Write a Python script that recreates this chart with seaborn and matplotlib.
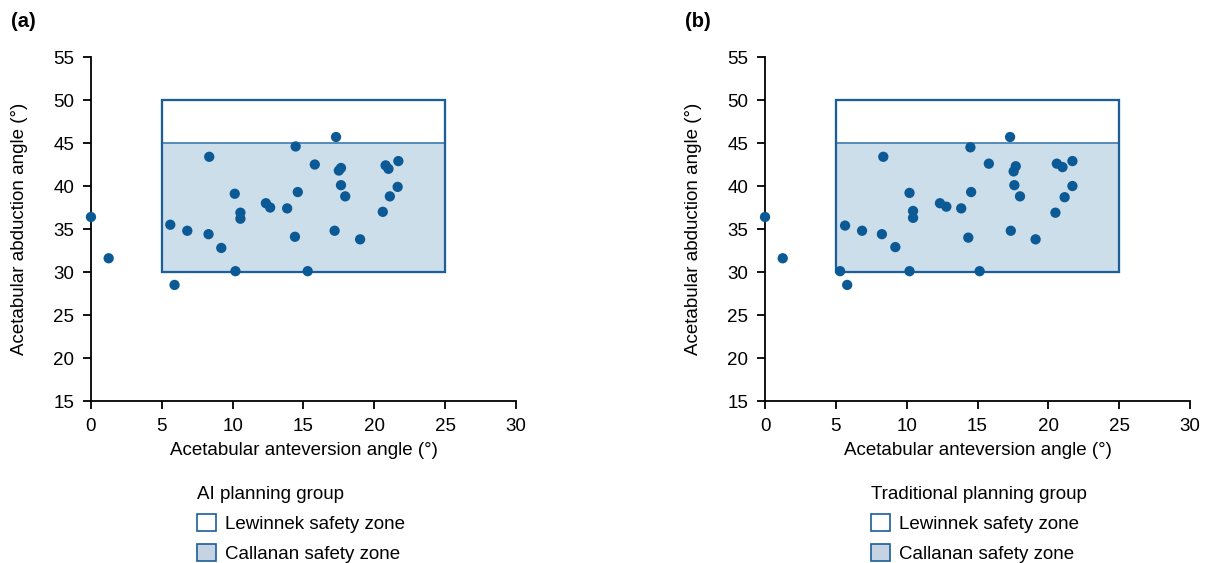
import matplotlib
matplotlib.use("Agg")
import matplotlib.pyplot as plt
from matplotlib.patches import Rectangle, Patch
import pandas as pd
import seaborn as sns

# AI planning group (anteversion, abduction)
ai_anteversion = [0.0, 1.25, 5.6, 5.9, 6.8, 8.3, 8.35, 9.2, 10.15, 10.2, 10.55, 10.55,
                  12.35, 12.65, 13.85, 14.4, 14.45, 14.6, 15.3, 15.8, 17.2, 17.3,
                  17.5, 17.65, 17.65, 17.95, 19.0, 20.6, 20.8, 21.0, 21.1, 21.65, 21.7]
ai_abduction = [36.4, 31.6, 35.5, 28.5, 34.8, 34.4, 43.4, 32.8, 39.1, 30.1, 36.9, 36.2,
                38.0, 37.5, 37.4, 34.1, 44.6, 39.3, 30.1, 42.5, 34.8, 45.7,
                41.8, 42.1, 40.1, 38.8, 33.8, 37.0, 42.4, 42.0, 38.8, 39.9, 42.9]

# Traditional planning group
trad_anteversion = [0.0, 1.25, 5.3, 5.65, 5.8, 6.85, 8.25, 8.35, 9.2, 10.2, 10.2, 10.45,
                    10.45, 12.35, 12.8, 13.85, 14.35, 14.5, 14.55, 15.15, 15.8, 17.3,
                    17.35, 17.55, 17.7, 17.6, 18.0, 19.1, 20.5, 20.6, 21.0, 21.15, 21.7, 21.7]
trad_abduction = [36.4, 31.6, 30.1, 35.4, 28.5, 34.8, 34.4, 43.4, 32.9, 39.2, 30.1, 37.1,
                  36.3, 38.0, 37.6, 37.4, 34.0, 44.5, 39.3, 30.1, 42.6, 45.7,
                  34.8, 41.7, 42.3, 40.1, 38.8, 33.8, 36.9, 42.6, 42.2, 38.7, 40.0, 42.9]

lewinnek_x = (5, 25)
lewinnek_y = (30, 50)
callanan_x = (5, 25)
callanan_y = (30, 45)

groups = ["AI planning group", "Traditional planning group"]
panel_tags = ["(a)", "(b)"]
x_ticks = [0, 5, 10, 15, 20, 25, 30]
y_ticks = [15, 20, 25, 30, 35, 40, 45, 50, 55]

dot_color = "#0b5a96"
edge_color = "#1c5e98"
fill_color = "#cddeeb"
fs = 13.5

sns.set_style("ticks")
plt.rcParams["font.family"] = ["Liberation Sans", "DejaVu Sans"]
plt.rcParams["font.size"] = fs
for key in ["text.color", "axes.labelcolor", "xtick.color", "ytick.color"]:
    plt.rcParams[key] = "black"

fig = plt.figure(figsize=(12.08, 5.63), dpi=100)
axes = [fig.add_axes([0.0753, 0.2877, 0.3518, 0.611]),
        fig.add_axes([0.6333, 0.2877, 0.3518, 0.611])]

datasets = [(ai_anteversion, ai_abduction), (trad_anteversion, trad_abduction)]

for ax, (xs, ys), group, tag in zip(axes, datasets, groups, panel_tags):
    df = pd.DataFrame({"anteversion": xs, "abduction": ys})
    ax.add_patch(Rectangle((lewinnek_x[0], lewinnek_y[0]),
                           lewinnek_x[1] - lewinnek_x[0], lewinnek_y[1] - lewinnek_y[0],
                           facecolor="white", edgecolor=edge_color, lw=1.5, zorder=1))
    ax.add_patch(Rectangle((callanan_x[0], callanan_y[0]),
                           callanan_x[1] - callanan_x[0], callanan_y[1] - callanan_y[0],
                           facecolor=fill_color, edgecolor="#4a84b5", lw=1.3, zorder=1))
    # redraw the outer frame on top of the inner zone
    ax.add_patch(Rectangle((lewinnek_x[0], lewinnek_y[0]),
                           lewinnek_x[1] - lewinnek_x[0], lewinnek_y[1] - lewinnek_y[0],
                           facecolor="none", edgecolor=edge_color, lw=1.6, zorder=2))
    sns.scatterplot(data=df, x="anteversion", y="abduction", ax=ax, color=dot_color,
                    s=55, edgecolor="none", zorder=3, clip_on=False)

    ax.set_xlim(0, 30)
    ax.set_ylim(15, 55)
    ax.set_xticks(x_ticks)
    ax.set_yticks(y_ticks)
    ax.tick_params(direction="out", length=6, width=1.3, labelsize=fs, colors="black", pad=6)
    for side in ["left", "bottom"]:
        ax.spines[side].set_linewidth(1.3)
        ax.spines[side].set_color("black")
    sns.despine(ax=ax)
    ax.set_xlabel("Acetabular anteversion angle (°)", fontsize=fs, labelpad=5)
    ax.set_ylabel("Acetabular abduction angle (°)", fontsize=fs, labelpad=18)

    handles = [Patch(facecolor="white", edgecolor=edge_color, lw=1.2, label="Lewinnek safety zone"),
               Patch(facecolor="#c6d3e3", edgecolor=edge_color, lw=1.2, label="Callanan safety zone")]
    ax.legend(handles=handles, title=group, loc="upper left", bbox_to_anchor=(0.25, -0.247),
              frameon=False, alignment="left", borderpad=0, borderaxespad=0,
              handlelength=1.0, handleheight=1.0, handletextpad=0.5, labelspacing=0.6,
              fontsize=fs, title_fontsize=fs)
    leg = ax.get_legend()
    leg._legend_box.sep = 8

    pos = ax.get_position()
    fig.text(pos.x0 - 0.066, 0.962, tag, fontsize=14.5, fontweight="bold", va="center")

fig.savefig("out.png", dpi=100)
